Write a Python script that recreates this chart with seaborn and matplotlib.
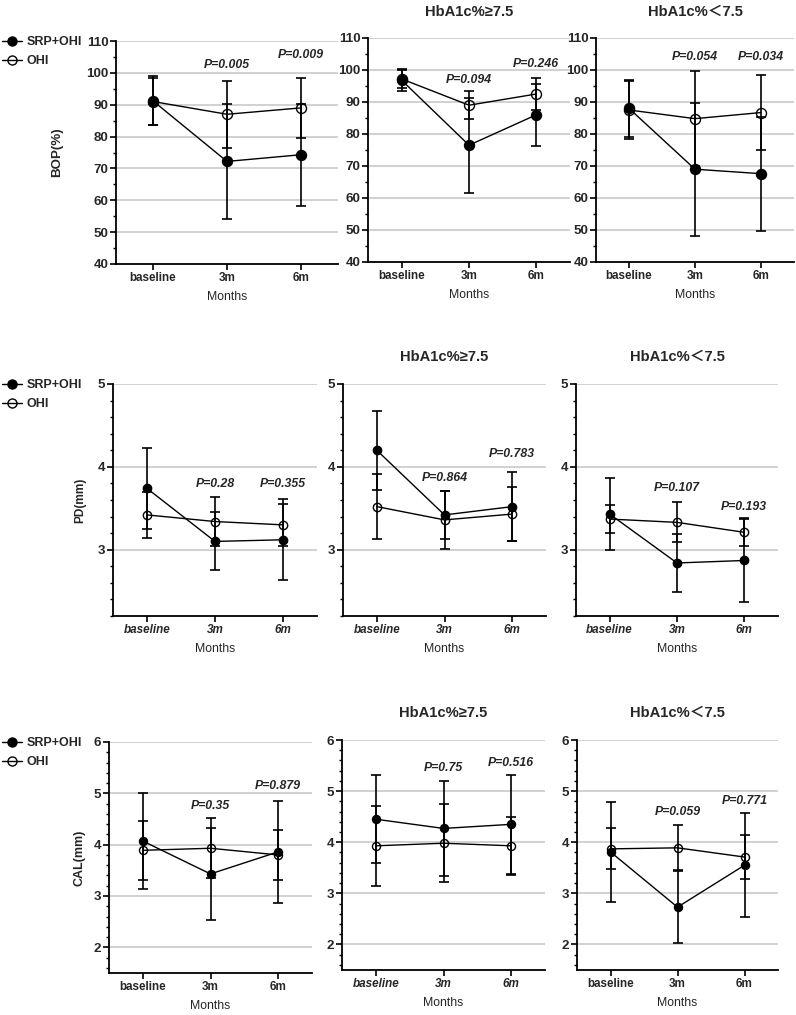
import numpy as np
import pandas as pd
import matplotlib
matplotlib.use("Agg")
import matplotlib.pyplot as plt
from matplotlib.lines import Line2D
from matplotlib.ticker import MultipleLocator
import seaborn as sns

# ---------------- data ----------------
months = ["baseline", "3m", "6m"]
groups = ["SRP+OHI", "OHI"]

# BOP (%)
bop_all_srp = [91.2, 72.2, 74.3];  bop_all_srp_sd = [7.7, 18.0, 16.0]
bop_all_ohi = [91.0, 87.0, 89.0];  bop_all_ohi_sd = [7.5, 10.5, 9.5]
bop_all_p = ["", "P=0.005", "P=0.009"]

bop_hi_srp = [96.8, 76.5, 86.0];   bop_hi_srp_sd = [3.5, 14.8, 9.7]
bop_hi_ohi = [97.2, 89.0, 92.5];   bop_hi_ohi_sd = [2.8, 4.3, 5.0]
bop_hi_p = ["", "P=0.094", "P=0.246"]

bop_lo_srp = [88.0, 69.0, 67.6];   bop_lo_srp_sd = [9.0, 20.8, 17.8]
bop_lo_ohi = [87.5, 84.8, 86.7];   bop_lo_ohi_sd = [9.0, 14.8, 11.6]
bop_lo_p = ["", "P=0.054", "P=0.034"]

# PD (mm)
pd_all_srp = [3.74, 3.10, 3.12];   pd_all_srp_sd = [0.49, 0.35, 0.49]
pd_all_ohi = [3.42, 3.34, 3.30];   pd_all_ohi_sd = [0.28, 0.30, 0.25]
pd_all_p = ["", "P=0.28", "P=0.355"]

pd_hi_srp = [4.20, 3.42, 3.52];    pd_hi_srp_sd = [0.48, 0.29, 0.42]
pd_hi_ohi = [3.52, 3.36, 3.43];    pd_hi_ohi_sd = [0.39, 0.35, 0.33]
pd_hi_p = ["", "P=0.864", "P=0.783"]

pd_lo_srp = [3.43, 2.84, 2.87];    pd_lo_srp_sd = [0.43, 0.35, 0.50]
pd_lo_ohi = [3.37, 3.33, 3.21];    pd_lo_ohi_sd = [0.17, 0.24, 0.17]
pd_lo_p = ["", "P=0.107", "P=0.193"]

# CAL (mm)
cal_all_srp = [4.07, 3.43, 3.86];  cal_all_srp_sd = [0.93, 0.90, 1.00]
cal_all_ohi = [3.89, 3.93, 3.80];  cal_all_ohi_sd = [0.57, 0.58, 0.48]
cal_all_p = ["", "P=0.35", "P=0.879"]

cal_hi_srp = [4.45, 4.27, 4.35];   cal_hi_srp_sd = [0.86, 0.93, 0.97]
cal_hi_ohi = [3.93, 3.98, 3.93];   cal_hi_ohi_sd = [0.78, 0.76, 0.57]
cal_hi_p = ["", "P=0.75", "P=0.516"]

cal_lo_srp = [3.81, 2.73, 3.55];   cal_lo_srp_sd = [0.97, 0.71, 1.02]
cal_lo_ohi = [3.87, 3.89, 3.71];   cal_lo_ohi_sd = [0.40, 0.44, 0.43]
cal_lo_p = ["", "P=0.059", "P=0.771"]

titles = ["", "HbA1c%\u22657.5", "HbA1c%\uff1c7.5"]
ylabels = ["BOP(%)", "PD(mm)", "CAL(mm)"]

# ---------------- layout / style ----------------
sns.set_style("ticks")
plt.rcParams["font.family"] = ["Liberation Sans", "DejaVu Sans", "Noto Sans CJK SC"]
plt.rcParams["axes.linewidth"] = 1.3

W, H = 796, 1015
fig = plt.figure(figsize=(W / 100, H / 100), dpi=100)

def box(x0, x1, y0, y1):
    return [x0 / W, 1 - y1 / H, (x1 - x0) / W, (y1 - y0) / H]

rows = [
    dict(boxes=[box(116, 338, 41, 264), box(368, 570, 38, 262), box(596, 794, 38, 262)],
         ylim=(40, 110), major=10, minor=5, ms=7.2, ylab_fs=9.6,
         data=[(bop_all_srp, bop_all_srp_sd, bop_all_ohi, bop_all_ohi_sd, bop_all_p),
               (bop_hi_srp, bop_hi_srp_sd, bop_hi_ohi, bop_hi_ohi_sd, bop_hi_p),
               (bop_lo_srp, bop_lo_srp_sd, bop_lo_ohi, bop_lo_ohi_sd, bop_lo_p)],
         py=[[0, 102.5, 105.5], [0, 97.0, 102.0], [0, 104.0, 104.0]],
         italic=[False, False, False], title_y=12, leg_y=41, ylab_x=57),
    dict(boxes=[box(113, 317, 384, 616), box(343, 546, 384, 616), box(576, 778, 384, 616)],
         ylim=(2.2, 5.0), major=1, minor=0.2, ms=6.0, ylab_fs=8.6,
         data=[(pd_all_srp, pd_all_srp_sd, pd_all_ohi, pd_all_ohi_sd, pd_all_p),
               (pd_hi_srp, pd_hi_srp_sd, pd_hi_ohi, pd_hi_ohi_sd, pd_hi_p),
               (pd_lo_srp, pd_lo_srp_sd, pd_lo_ohi, pd_lo_ohi_sd, pd_lo_p)],
         py=[[0, 3.79, 3.79], [0, 3.87, 4.15], [0, 3.74, 3.51]],
         italic=[True, True, True], title_y=357, leg_y=384, ylab_x=80),
    dict(boxes=[box(109, 312, 742, 973), box(342, 545, 740, 970), box(577, 778, 740, 970)],
         ylim=(1.5, 6.0), major=1, minor=0.2, ms=5.8, ylab_fs=9.0,
         data=[(cal_all_srp, cal_all_srp_sd, cal_all_ohi, cal_all_ohi_sd, cal_all_p),
               (cal_hi_srp, cal_hi_srp_sd, cal_hi_ohi, cal_hi_ohi_sd, cal_hi_p),
               (cal_lo_srp, cal_lo_srp_sd, cal_lo_ohi, cal_lo_ohi_sd, cal_lo_p)],
         py=[[0, 4.75, 5.14], [0, 5.45, 5.55], [0, 4.59, 4.80]],
         italic=[False, True, False], title_y=713, leg_y=742, ylab_x=80),
]

for r, row in enumerate(rows):
    for c in range(3):
        ax = fig.add_axes(row["boxes"][c])
        srp, srp_sd, ohi, ohi_sd, pvals = row["data"][c]
        df = pd.DataFrame({"Months": months * 2,
                           "value": list(srp) + list(ohi),
                           "group": [groups[0]] * 3 + [groups[1]] * 3})
        # error bars
        ax.errorbar(months, ohi, yerr=ohi_sd, fmt="none", ecolor="black",
                    elinewidth=1.2, capsize=3.7, capthick=1.2, zorder=2)
        ax.errorbar(months, srp, yerr=srp_sd, fmt="none", ecolor="black",
                    elinewidth=1.2, capsize=3.7, capthick=1.2, zorder=2)
        # lines + markers
        n0 = len(ax.lines)
        sns.lineplot(data=df[df["group"] == "OHI"], x="Months", y="value", ax=ax,
                     color="black", marker="o", sort=False, legend=False,
                     markersize=row["ms"], linewidth=1.0)
        for ln in ax.lines[n0:]:
            ln.set_markerfacecolor("none")
            ln.set_markeredgecolor("black")
            ln.set_markeredgewidth(1.0)
            ln.set_zorder(3)
        n0 = len(ax.lines)
        sns.lineplot(data=df[df["group"] == "SRP+OHI"], x="Months", y="value", ax=ax,
                     color="black", marker="o", sort=False, legend=False,
                     markersize=row["ms"], linewidth=1.0)
        for ln in ax.lines[n0:]:
            ln.set_markerfacecolor("black")
            ln.set_markeredgecolor("black")
            ln.set_markeredgewidth(1.0)
            ln.set_zorder(4)

        # p-values
        for i, p in enumerate(pvals):
            if p:
                ax.text(i, row["py"][c][i], p, ha="center", va="center",
                        fontsize=8.8, fontweight="bold", fontstyle="italic")

        ax.set_xlim(-0.5, 2.5)
        ax.set_ylim(*row["ylim"])
        ax.yaxis.set_major_locator(MultipleLocator(row["major"]))
        ax.yaxis.set_minor_locator(MultipleLocator(row["minor"]))
        ax.yaxis.grid(True, which="major", color="#c9c9c9", linewidth=1.2)
        ax.set_axisbelow(True)
        sns.despine(ax=ax)
        ax.spines["left"].set_color("black")
        ax.spines["bottom"].set_color("black")
        ax.tick_params(axis="y", which="major", direction="out", length=4,
                       width=1.2, color="black", labelsize=9.6, pad=1.5)
        ax.tick_params(axis="x", which="major", direction="out", length=4,
                       width=1.2, color="black", pad=2)
        ax.tick_params(axis="y", which="minor", direction="out", length=2.5,
                       width=1.0, color="black")
        for lab in ax.get_yticklabels():
            lab.set_fontweight("bold")
        ax.set_xticks(range(3))
        ax.set_xticklabels(months, fontweight="bold",
                           fontstyle="italic" if row["italic"][c] else "normal",
                           fontsize=8.4)
        ax.set_xlabel("Months", fontsize=8.8, labelpad=5)
        ax.set_ylabel("")
        if c == 0:
            yc = row["boxes"][c][1] + row["boxes"][c][3] / 2
            fig.text(row["ylab_x"] / W, yc, ylabels[r], rotation=90, ha="center",
                     va="center", fontsize=row["ylab_fs"], fontweight="bold")
        if titles[c]:
            b = row["boxes"][c]
            fig.text(b[0] + b[2] / 2, 1 - row["title_y"] / H, titles[c],
                     ha="center", va="center", fontsize=10.6, fontweight="bold",
                     family=["Liberation Sans", "DejaVu Sans", "Noto Sans CJK SC"])

    # legend per row
    handles = [Line2D([0], [0], color="black", lw=1.0, marker="o", markersize=6.5,
                      markerfacecolor="black", markeredgecolor="black"),
               Line2D([0], [0], color="black", lw=1.0, marker="o", markersize=6.5,
                      markerfacecolor="none", markeredgecolor="black")]
    fig.legend(handles, groups, loc="upper left",
               bbox_to_anchor=(-0.004, 1 - (row["leg_y"] - 10) / H),
               frameon=False, handlelength=1.6, handletextpad=0.35,
               labelspacing=0.55, borderaxespad=0,
               prop=dict(size=9, weight="bold"))

fig.savefig("out.png", dpi=100)
